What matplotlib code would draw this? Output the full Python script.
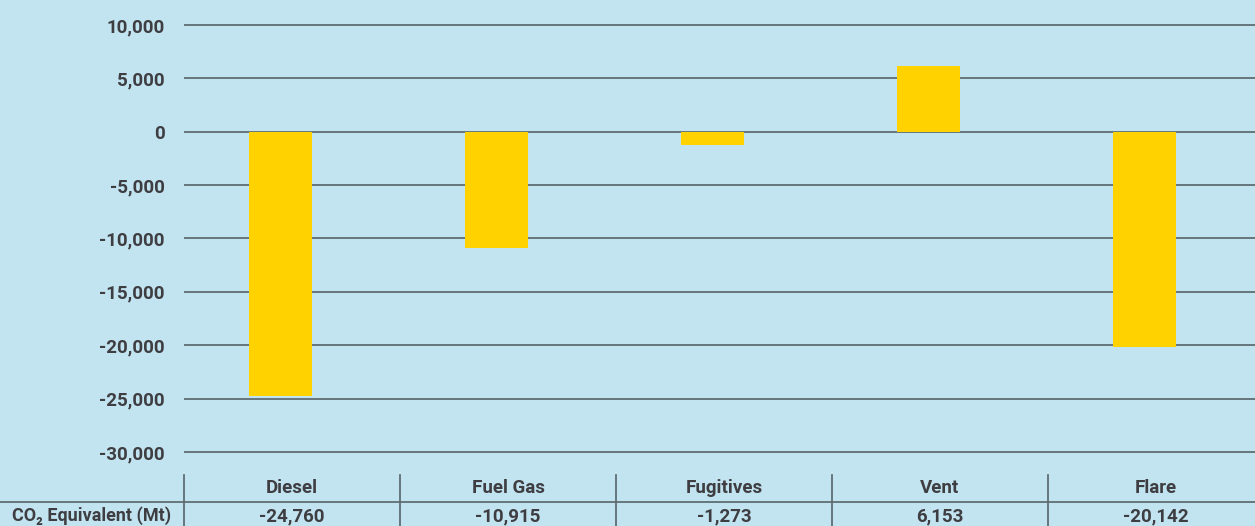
import matplotlib.pyplot as plt
from matplotlib.ticker import FuncFormatter

plt.rcParams['font.family'] = ['Roboto', 'DejaVu Sans']

categories = ['Diesel', 'Fuel Gas', 'Fugitives', 'Vent', 'Flare']
co2_equivalent = [-24760, -10915, -1273, 6153, -20142]
row_label = 'CO₂ Equivalent (Mt)'
y_ticks = [10000, 5000, 0, -5000, -10000, -15000, -20000, -25000, -30000]

BG = '#c2e4f0'
BAR = '#ffd200'
GRID = '#5f6d73'
TEXT = '#3e3e42'

W, H = 1255, 526
fig = plt.figure(figsize=(W / 100, H / 100), dpi=100, facecolor=BG)

# chart area, in pixel units of the figure
ax_left, ax_bottom = 184, 66
col_w = 216
ax = fig.add_axes([ax_left / W, ax_bottom / H, (W - ax_left) / W, (H - ax_bottom) / H])
ax.set_facecolor(BG)

x = range(len(categories))
ax.bar(x, co2_equivalent, width=63 / col_w, color=BAR, zorder=3)

# one x unit per table column, bars sit a little left of column centres
x0 = -0.447
ax.set_xlim(x0, x0 + (W - ax_left) / col_w)
ax.set_ylim(-30750, 12340)
ax.set_yticks(y_ticks)
ax.yaxis.set_major_formatter(FuncFormatter(lambda v, p: f'{int(v):,}'))
ax.grid(axis='y', color=GRID, linewidth=1.3, zorder=1)
ax.set_xticks([])
ax.tick_params(axis='y', length=0, pad=14, labelsize=13.5, labelcolor=TEXT)
for lbl in ax.get_yticklabels():
    lbl.set_fontweight('bold')
for s in ax.spines.values():
    s.set_visible(False)

# table under the chart
tax = fig.add_axes([0, 0, 1, 75 / H])
tax.set_xlim(0, W)
tax.set_ylim(H, H - 75)
tax.axis('off')

edges = [ax_left + col_w * i for i in range(len(categories))]
for e in edges:
    tax.plot([e, e], [475, H], color=GRID, linewidth=1.3)
tax.plot([0, W], [502, 502], color=GRID, linewidth=1.3)

for e, name, val in zip(edges, categories, co2_equivalent):
    cx = e + col_w / 2
    tax.text(cx, 488, name, ha='center', va='center', fontsize=13.5,
             fontweight='bold', color=TEXT)
    tax.text(cx, 516, f'{val:,}', ha='center', va='center', fontsize=13.5,
             fontweight='bold', color=TEXT)
tax.text(12, 516, row_label, ha='left', va='center', fontsize=13,
         fontweight='bold', color=TEXT)

fig.savefig('out.png', dpi=100, facecolor=BG)
